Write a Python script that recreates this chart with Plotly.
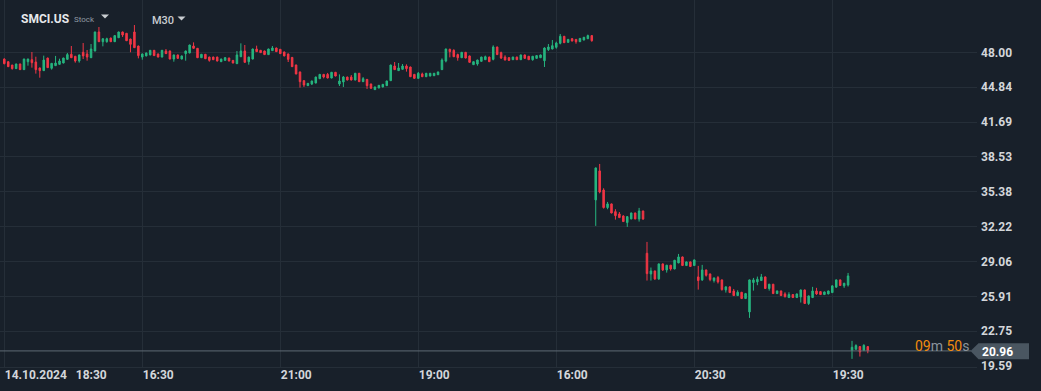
import plotly.graph_objects as go

# ---------------- data (M30 candles) ----------------
opens = [
    47.39, 47.15, 46.85, 46.52, 46.94, 46.43, 47.15, 47.33, 47.12, 46.58,
    46.34, 47.48, 46.55, 46.79, 46.91, 47.03, 47.36, 47.82, 47.64, 47.21,
    48.00, 47.85, 47.51, 48.12, 49.84, 48.96, 48.96, 49.29, 48.96, 49.32,
    49.84, 49.72, 49.20, 49.84, 48.57, 47.57, 47.67, 47.76, 48.18, 47.85,
    47.57, 48.12, 48.12, 47.39, 47.76, 47.39, 47.88, 47.94, 48.57, 48.36,
    47.51, 47.82, 47.57, 47.57, 47.57, 47.15, 47.27, 47.48, 47.27, 46.97,
    47.60, 48.12, 47.15, 47.39, 48.30, 48.18, 48.12, 47.79, 48.15, 48.39,
    48.27, 48.03, 47.85,
    47.54, 46.85, 46.22, 45.43, 44.98, 45.13, 45.22, 45.61, 46.00, 46.00,
    45.67, 46.19, 45.13, 45.31, 45.76, 45.76, 45.49, 46.10, 45.34, 45.55,
    45.13, 44.62, 44.77, 44.86, 44.98, 45.43, 46.76, 46.34, 46.46, 46.76,
    46.67, 46.00, 45.64, 46.04, 45.79, 45.85, 45.88, 45.97, 46.43, 47.21,
    48.27, 48.18, 47.79, 47.51, 48.00, 47.67, 46.88, 46.94, 47.18, 47.33,
    47.57, 47.36, 48.48, 47.97, 47.57, 47.51, 47.33, 47.57, 47.33, 47.76,
    47.64, 47.33, 47.45, 47.51, 47.24, 48.24, 48.30, 48.45, 48.81, 49.45,
    48.90, 49.23, 49.17, 48.96, 49.11, 49.23, 49.51,
    34.63, 37.26, 35.53, 33.94, 34.27, 33.57, 33.36, 33.18, 32.58, 32.91,
    33.45, 32.91, 33.63, 29.80, 27.93, 28.20, 27.48, 28.84, 28.29, 28.72,
    28.38, 28.93, 29.47, 28.69, 29.02, 28.69, 27.66, 27.39, 28.29, 27.93,
    27.33, 27.60, 27.39, 26.48, 26.76, 26.39, 25.97, 26.27, 25.70, 24.49,
    27.15, 27.21, 27.33, 27.66, 26.61, 27.00, 26.15, 26.39, 26.12, 25.79,
    26.06, 25.79, 25.85, 26.48, 25.25, 25.79, 26.39, 26.33, 26.06, 26.12,
    26.24, 26.73, 27.39, 26.85, 26.93,
    20.99, 21.11, 21.35, 20.99, 21.35,
]
highs = [
    47.45, 47.18, 46.85, 46.97, 46.97, 47.42, 47.42, 48.03, 47.60, 46.61,
    47.70, 47.51, 47.03, 47.67, 47.42, 47.51, 47.94, 48.57, 47.67, 47.79,
    48.84, 48.21, 48.75, 49.87, 50.29, 49.26, 49.32, 49.32, 49.54, 49.87,
    49.87, 49.75, 49.23, 50.47, 48.60, 47.88, 47.97, 48.21, 48.21, 47.88,
    48.21, 48.30, 48.15, 47.79, 47.79, 47.70, 48.15, 48.69, 48.90, 48.39,
    47.85, 47.85, 47.60, 47.60, 47.60, 47.42, 47.57, 47.51, 47.30, 48.12,
    48.81, 48.66, 47.60, 48.33, 48.60, 48.21, 48.15, 48.33, 48.57, 48.42,
    48.30, 48.06, 47.88,
    47.57, 46.88, 46.25, 45.46, 45.22, 45.43, 45.79, 46.04, 46.04, 46.13,
    46.22, 46.22, 46.00, 45.85, 45.79, 45.94, 46.13, 46.13, 45.76, 45.58,
    45.16, 44.89, 45.04, 45.13, 45.43, 46.88, 47.12, 47.03, 46.94, 46.91,
    46.70, 46.04, 46.22, 46.16, 46.13, 46.13, 46.13, 46.25, 47.45, 48.33,
    48.33, 48.27, 47.88, 48.03, 48.03, 47.70, 47.18, 47.33, 47.60, 47.70,
    47.60, 48.63, 48.51, 48.06, 47.73, 47.57, 47.60, 47.60, 47.79, 47.79,
    47.67, 47.67, 47.73, 47.79, 48.45, 48.75, 49.11, 48.96, 49.66, 49.48,
    49.20, 49.29, 49.20, 49.29, 49.39, 49.60, 49.54,
    37.56, 37.89, 35.69, 34.45, 34.30, 33.79, 33.54, 33.24, 33.15, 33.48,
    33.48, 33.91, 33.66, 30.83, 28.51, 28.23, 28.87, 28.87, 28.75, 28.75,
    29.20, 29.74, 29.50, 29.05, 29.05, 29.23, 28.66, 28.75, 28.32, 27.96,
    27.60, 27.75, 27.42, 26.79, 26.79, 26.57, 26.45, 26.30, 26.21, 27.42,
    27.57, 27.69, 27.93, 27.69, 27.03, 27.03, 26.42, 26.42, 26.27, 26.27,
    26.09, 26.15, 26.51, 26.51, 25.97, 26.76, 26.67, 26.36, 26.33, 26.42,
    26.88, 27.42, 27.42, 27.12, 28.02,
    21.87, 21.56, 21.38, 21.56, 21.38,
]
lows = [
    46.91, 46.67, 46.43, 46.49, 46.43, 46.43, 46.79, 46.61, 46.07, 45.70,
    46.31, 46.58, 46.43, 46.76, 46.88, 47.00, 47.33, 47.48, 47.06, 47.06,
    47.39, 47.24, 47.48, 48.09, 48.93, 48.54, 48.87, 48.93, 48.93, 49.29,
    49.39, 49.02, 48.00, 48.39, 47.45, 47.33, 47.64, 47.73, 47.67, 47.54,
    47.54, 47.85, 47.36, 47.15, 47.42, 47.36, 47.24, 47.91, 48.33, 47.48,
    47.48, 47.39, 47.15, 47.30, 47.18, 47.12, 47.24, 47.18, 47.00, 46.94,
    47.57, 47.06, 46.88, 47.36, 48.03, 47.94, 47.76, 47.76, 48.12, 48.03,
    47.85, 47.64, 47.12,
    46.67, 46.00, 44.80, 44.86, 44.95, 45.04, 45.19, 45.58, 45.64, 45.64,
    45.64, 45.82, 44.95, 44.86, 45.46, 45.46, 45.46, 45.31, 45.31, 44.68,
    44.71, 44.59, 44.74, 44.83, 44.95, 45.40, 46.40, 46.31, 46.43, 46.25,
    45.76, 45.61, 45.61, 45.76, 45.76, 45.82, 45.85, 45.94, 46.40, 47.09,
    47.54, 47.57, 47.24, 47.48, 47.45, 47.06, 46.85, 46.79, 47.15, 47.30,
    47.12, 47.27, 47.76, 47.39, 47.27, 47.21, 47.30, 47.30, 47.30, 47.42,
    47.30, 47.24, 47.42, 47.48, 46.67, 48.12, 48.27, 48.33, 48.72, 48.84,
    48.87, 48.99, 48.78, 48.93, 49.08, 49.20, 48.96,
    32.28, 35.23, 33.85, 33.79, 33.42, 32.85, 33.00, 32.64, 32.19, 32.88,
    32.88, 32.67, 32.82, 27.33, 27.33, 27.39, 27.39, 28.20, 28.05, 28.23,
    28.35, 28.90, 28.66, 28.66, 28.57, 28.66, 26.51, 27.30, 27.69, 27.27,
    27.15, 27.06, 26.42, 26.24, 26.21, 25.94, 25.94, 25.67, 25.67, 23.95,
    26.42, 26.91, 27.30, 26.58, 26.42, 26.12, 26.12, 25.94, 25.79, 25.76,
    25.76, 25.76, 25.34, 25.22, 25.12, 25.76, 26.03, 26.03, 26.03, 26.09,
    26.21, 26.70, 26.85, 26.67, 26.79,
    20.24, 21.08, 20.45, 20.96, 20.75,
]
closes = [
    46.97, 46.70, 46.52, 46.94, 46.43, 47.39, 47.39, 47.06, 46.43, 46.34,
    47.30, 46.61, 47.00, 47.03, 47.21, 47.48, 47.79, 47.51, 47.21, 47.76,
    47.67, 47.57, 48.30, 49.84, 48.96, 49.23, 49.23, 48.96, 49.51, 49.84,
    49.57, 49.05, 48.72, 48.42, 47.70, 47.85, 47.94, 48.18, 47.70, 47.57,
    48.18, 47.88, 47.39, 47.76, 47.45, 47.67, 48.12, 48.66, 48.36, 47.51,
    47.82, 47.42, 47.27, 47.33, 47.21, 47.39, 47.51, 47.21, 47.03, 47.76,
    48.12, 47.09, 47.57, 48.30, 48.06, 47.97, 47.79, 48.30, 48.39, 48.06,
    47.88, 47.67, 47.36,
    46.70, 46.04, 45.34, 45.04, 45.19, 45.40, 45.76, 46.00, 45.76, 45.67,
    46.19, 45.85, 45.40, 45.76, 45.49, 45.49, 46.10, 45.34, 45.61, 44.98,
    44.74, 44.86, 45.01, 45.10, 45.40, 46.85, 46.43, 46.58, 46.76, 46.52,
    45.79, 45.64, 46.10, 45.79, 46.10, 46.10, 46.10, 46.22, 47.30, 48.30,
    48.06, 47.60, 47.51, 48.00, 47.48, 47.09, 47.15, 47.30, 47.57, 47.60,
    47.15, 48.48, 47.79, 47.48, 47.30, 47.27, 47.57, 47.33, 47.76, 47.45,
    47.33, 47.64, 47.70, 47.76, 48.39, 48.48, 48.60, 48.84, 49.45, 48.87,
    49.17, 49.02, 48.96, 49.26, 49.36, 49.51, 49.05,
    37.53, 35.35, 33.94, 34.27, 33.45, 33.21, 33.03, 32.67, 33.12, 33.45,
    32.91, 33.63, 32.91, 27.96, 28.20, 27.48, 28.84, 28.29, 28.72, 28.38,
    29.17, 29.47, 28.69, 29.02, 28.60, 29.20, 27.33, 28.29, 27.81, 27.42,
    27.57, 27.21, 26.51, 26.76, 26.24, 25.97, 26.27, 25.70, 26.15, 27.39,
    27.39, 27.45, 27.66, 26.61, 27.00, 26.15, 26.39, 25.97, 25.88, 26.06,
    25.79, 26.12, 26.48, 25.25, 25.94, 26.39, 26.12, 26.06, 26.30, 26.39,
    26.85, 27.39, 26.88, 27.09, 27.75,
    21.29, 21.44, 20.87, 21.47, 20.96,
]

x_tick_pos = [0, 35, 70, 105, 140, 175, 210]
x_tick_text = ["14.10.2024\u00a0\u00a0\u00a018:30", "16:30", "21:00", "19:00",
               "16:00", "20:30", "19:30"]
y_tick_vals = [19.59, 22.7467, 25.9033, 29.06, 32.2167, 35.3733, 38.53,
               41.6867, 44.8433, 48.00]
y_tick_text = ["19.59", "22.75", "25.91", "29.06", "32.22", "35.38", "38.53",
               "41.69", "44.84", "48.00"]
symbol = "SMCI.US"
instrument_kind = "Stock"
timeframe = "M30"
countdown_min, countdown_sec = "09", "50"

# ---------------- layout geometry ----------------
W, H = 1041, 391
PL, PR, PT, PB = 0, 64, 0, 24
PW, PH = W - PL - PR, H - PT - PB  # 977 x 367

BG = "#18202a"
GRID = "#252e38"
UP = "#26b57f"
DN = "#f23645"
TXT = "#d3d6da"

def px(x):
    return (x - PL) / PW

def py(y):
    return 1 - (y - PT) / PH

def tri(cx, cy, w=8, h=4):
    return (f"M {px(cx - w / 2)} {py(cy - h / 2)} L {px(cx + w / 2)} {py(cy - h / 2)} "
            f"L {px(cx)} {py(cy + h / 2)} Z")

# candle spacing: 35 candles per 138 px ; first candle at 4.3 px
step = 138 / 35
x_lo = (0 - 4.3) / step
x_hi = (PW - 4.3) / step
ppu = 34.86 / 3.15667
y_hi = 48.0 + (52.3 - PT) / ppu
y_lo = 48.0 - (PT + PH - 52.3) / ppu

xs = list(range(len(opens)))
last = closes[-1]

fig = go.Figure()
fig.add_trace(go.Candlestick(
    x=xs, open=opens, high=highs, low=lows, close=closes,
    increasing=dict(line=dict(color=UP, width=1), fillcolor=UP),
    decreasing=dict(line=dict(color=DN, width=1), fillcolor=DN),
    whiskerwidth=0, hoverinfo="skip", showlegend=False,
))

shapes = [
    # current price line
    dict(type="line", xref="paper", yref="y", x0=0, x1=px(971), y0=last, y1=last,
         line=dict(color="#5f6a75", width=1), layer="above"),
    # price label box
    dict(type="path", xref="paper", yref="paper",
         path=(f"M {px(970.5)} {py(351)} L {px(978.5)} {py(343.3)} L {px(1029)} {py(343.3)} "
               f"L {px(1029)} {py(359.3)} L {px(978.5)} {py(359.3)} Z"),
         fillcolor="#4a5661", line=dict(width=0), layer="above"),
    # dropdown triangles in header
    dict(type="path", xref="paper", yref="paper", path=tri(105, 16.5),
         fillcolor="#c9cdd1", line=dict(width=0), layer="above"),
    dict(type="path", xref="paper", yref="paper", path=tri(181.5, 18.5),
         fillcolor="#c9cdd1", line=dict(width=0), layer="above"),
]

ann = [
    dict(text=f"<b>{symbol}</b>", x=px(19), y=py(19), xanchor="left", yanchor="middle",
         font=dict(family="Roboto", size=12, color="#e6e8ea")),
    dict(text=instrument_kind, x=px(71.5), y=py(19.5), xanchor="left", yanchor="middle",
         font=dict(family="Roboto", size=8, color="#8f99a3")),
    dict(text=timeframe, x=px(149.5), y=py(20.5), xanchor="left", yanchor="middle",
         font=dict(family="Roboto", size=11, color="#c9cdd1", weight=500)),
    dict(text=(f"<span style='color:#f28c0f'>{countdown_min}</span>m "
               f"<span style='color:#f28c0f'>{countdown_sec}</span>s"),
         x=px(971), y=py(346), xanchor="right", yanchor="middle",
         font=dict(family="Roboto", size=14, color="#8b949d")),
    dict(text=f"<b>{last:.2f}</b>", x=px(980), y=py(351.5), xanchor="left", yanchor="middle",
         font=dict(family="Roboto", size=12, color="#ffffff")),
]
for a in ann:
    a.update(xref="paper", yref="paper", showarrow=False)

fig.update_layout(
    width=W, height=H,
    margin=dict(l=PL, r=PR, t=PT, b=PB),
    paper_bgcolor=BG, plot_bgcolor=BG,
    shapes=shapes, annotations=ann,
    xaxis=dict(
        range=[x_lo, x_hi], rangeslider=dict(visible=False),
        tickmode="array", tickvals=x_tick_pos, ticktext=x_tick_text,
        ticklabelposition="outside right", ticklabelstandoff=-3,
        tickfont=dict(family="Roboto", size=12, color=TXT, weight="bold"),
        showgrid=True, gridcolor=GRID, gridwidth=1,
        zeroline=False, showline=True, linecolor=GRID, linewidth=1,
        ticks="", fixedrange=True,
    ),
    yaxis=dict(
        range=[y_lo, y_hi], side="right",
        tickmode="array", tickvals=y_tick_vals, ticktext=y_tick_text,
        tickfont=dict(family="Roboto", size=12, color=TXT, weight="bold"),
        showgrid=True, gridcolor=GRID, gridwidth=1,
        zeroline=False, showline=False, ticks="", ticklabelstandoff=3,
        fixedrange=True,
    ),
    boxgap=0.45,
    font=dict(family="Roboto"),
)

fig.write_html("out.html")
